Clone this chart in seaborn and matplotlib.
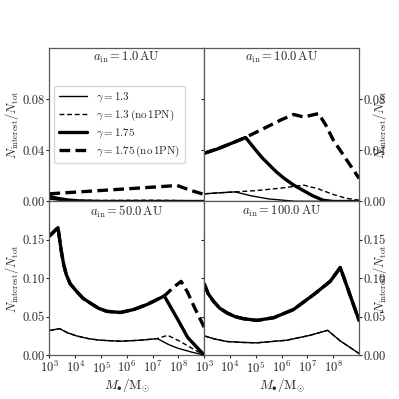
import numpy as np
import matplotlib
matplotlib.use("Agg")
import matplotlib.pyplot as plt
import seaborn as sns
from matplotlib.ticker import FixedLocator, NullLocator, FormatStrFormatter, LogFormatterMathtext

# log10(M_bh / M_sun) and N_interest/N_tot for each panel and curve
# a_in = 1.0 AU
lm_1_g13 = [3.0, 3.3, 3.7, 4.2, 5.0, 9.0]
f_1_g13 = [0.002, 0.0012, 0.0006, 0.0002, 0.0, 0.0]
lm_1_g13_nopn = [3.0, 3.5, 5.0, 7.0, 8.0, 9.0]
f_1_g13_nopn = [0.002, 0.0012, 0.0008, 0.001, 0.0008, 0.0]
lm_1_g175 = [3.0, 3.3, 3.7, 4.2, 5.0, 9.0]
f_1_g175 = [0.004, 0.0025, 0.0012, 0.0004, 0.0, 0.0]
lm_1_g175_nopn = [3.0, 4.0, 5.0, 6.0, 7.0, 7.95, 8.5, 9.0]
f_1_g175_nopn = [0.006, 0.0073, 0.0086, 0.0099, 0.0112, 0.0125, 0.0085, 0.0055]

# a_in = 10.0 AU
lm_10_g13 = [3.0, 3.6, 4.2, 4.8, 5.5, 6.5, 9.0]
f_10_g13 = [0.006, 0.0068, 0.0075, 0.0045, 0.002, 0.0002, 0.0]
lm_10_g13_nopn = [3.0, 3.6, 4.2, 5.0, 6.0, 6.85, 7.4, 8.0, 8.5, 9.0]
f_10_g13_nopn = [0.006, 0.0068, 0.0075, 0.0085, 0.0105, 0.0128, 0.010, 0.0055, 0.0025, 0.001]
lm_10_g175 = [3.0, 3.5, 4.0, 4.6, 4.8, 5.0, 5.25, 5.5, 5.8, 6.1, 6.45, 6.8, 7.2, 7.6, 8.0, 9.0]
f_10_g175 = [0.0377, 0.041, 0.045, 0.050, 0.045, 0.040, 0.034, 0.029, 0.023, 0.018, 0.013,
             0.009, 0.0045, 0.001, 0.0, 0.0]
lm_10_g175_nopn = [3.0, 3.5, 4.0, 4.6, 5.0, 5.5, 6.0, 6.46, 6.85, 7.43, 7.7, 8.0, 8.5, 9.0]
f_10_g175_nopn = [0.0377, 0.041, 0.045, 0.050, 0.054, 0.059, 0.064, 0.068, 0.066, 0.0687,
                  0.060, 0.048, 0.033, 0.018]

# a_in = 50.0 AU
lm_50_g13 = [3.0, 3.39, 3.7, 4.05, 4.5, 4.96, 5.75, 6.53, 7.18, 7.6, 7.97, 8.5, 9.0]
f_50_g13 = [0.032, 0.0345, 0.029, 0.025, 0.0215, 0.0194, 0.0181, 0.0194, 0.0215, 0.014, 0.009,
            0.004, 0.0]
lm_50_g13_nopn = [3.0, 3.39, 3.7, 4.05, 4.5, 4.96, 5.75, 6.53, 7.18, 7.58, 8.0, 8.36, 9.0]
f_50_g13_nopn = [0.032, 0.0345, 0.029, 0.025, 0.0215, 0.0194, 0.0181, 0.0194, 0.0215, 0.0258,
                 0.019, 0.012, 0.0]
lm_50_g175 = [3.0, 3.33, 3.46, 3.55, 3.65, 3.8, 4.05, 4.3, 4.57, 4.9, 5.22, 5.75, 6.27, 6.79,
              7.45, 7.97, 8.36, 9.0]
f_50_g175 = [0.155, 0.166, 0.135, 0.118, 0.105, 0.093, 0.083, 0.074, 0.068, 0.061, 0.057,
             0.0555, 0.0594, 0.066, 0.077, 0.0465, 0.0228, 0.0]
lm_50_g175_nopn = [3.0, 3.33, 3.46, 3.55, 3.65, 3.8, 4.05, 4.3, 4.57, 4.9, 5.22, 5.75, 6.27,
                   6.79, 7.45, 7.8, 8.1, 8.35, 8.62, 9.0]
f_50_g175_nopn = [0.155, 0.166, 0.135, 0.118, 0.105, 0.093, 0.083, 0.074, 0.068, 0.061, 0.057,
                  0.0555, 0.0594, 0.066, 0.077, 0.088, 0.096, 0.082, 0.062, 0.036]

# a_in = 100.0 AU (no-1PN curves coincide with the 1PN ones)
lm_100_g13 = [3.0, 3.4, 3.88, 4.5, 5.04, 6.2, 7.1, 7.78, 8.27, 9.0]
f_100_g13 = [0.025, 0.021, 0.0177, 0.0165, 0.016, 0.0194, 0.0258, 0.0323, 0.0185, 0.002]
lm_100_g175 = [3.0, 3.15, 3.36, 3.6, 3.88, 4.2, 4.52, 5.04, 5.69, 6.46, 7.24, 7.88, 8.27, 9.0]
f_100_g175 = [0.0926, 0.080, 0.070, 0.061, 0.055, 0.050, 0.0474, 0.0452, 0.0487, 0.0594,
              0.0788, 0.096, 0.114, 0.045]

panel_titles = [r'$a_{\rm in} = 1.0\,{\rm AU}$', r'$a_{\rm in} = 10.0\,{\rm AU}$',
                r'$a_{\rm in} = 50.0\,{\rm AU}$', r'$a_{\rm in} = 100.0\,{\rm AU}$']
curve_labels = [r'$\gamma = 1.3$', r'$\gamma = 1.3\,({\rm no\,1PN})$',
                r'$\gamma = 1.75$', r'$\gamma = 1.75\,({\rm no\,1PN})$']

panel_data = [
    [(lm_1_g13, f_1_g13), (lm_1_g13_nopn, f_1_g13_nopn),
     (lm_1_g175, f_1_g175), (lm_1_g175_nopn, f_1_g175_nopn)],
    [(lm_10_g13, f_10_g13), (lm_10_g13_nopn, f_10_g13_nopn),
     (lm_10_g175, f_10_g175), (lm_10_g175_nopn, f_10_g175_nopn)],
    [(lm_50_g13, f_50_g13), (lm_50_g13_nopn, f_50_g13_nopn),
     (lm_50_g175, f_50_g175), (lm_50_g175_nopn, f_50_g175_nopn)],
    [(lm_100_g13, f_100_g13), (lm_100_g13, f_100_g13),
     (lm_100_g175, f_100_g175), (lm_100_g175, f_100_g175)],
]

# line styles: thin/thick, solid/dashed
styles = [dict(lw=1.0, ls='-'), dict(lw=1.0, ls=(0, (3.5, 2))),
          dict(lw=2.4, ls='-'), dict(lw=2.4, ls=(0, (3.2, 1.6)))]

sns.set_style('ticks')
plt.rcParams['font.family'] = ['cmr10']
plt.rcParams['mathtext.fontset'] = 'cm'
plt.rcParams['axes.formatter.use_mathtext'] = True
plt.rcParams['axes.unicode_minus'] = False

fig, axes = plt.subplots(2, 2, figsize=(3.99, 3.99), dpi=100)
fig.subplots_adjust(left=0.124, right=0.900, top=0.880, bottom=0.110, hspace=0, wspace=0)

ylabel = r'$N_{\rm interest}/N_{\rm tot}$'
xlabel = r'$M_{\bullet}/{\rm M}_{\odot}$'

for i, ax in enumerate(axes.flat):
    for j, (lm, f) in enumerate(panel_data[i]):
        sns.lineplot(x=10 ** np.array(lm), y=f, ax=ax, color='black',
                     linewidth=styles[j]['lw'], linestyle=styles[j]['ls'],
                     label=curve_labels[j] if i == 0 else None, legend=False)
    ax.set_xscale('log')
    ax.set_xlim(1e3, 1e9)
    ax.xaxis.set_major_locator(FixedLocator([1e3, 1e4, 1e5, 1e6, 1e7, 1e8]))
    ax.xaxis.set_minor_locator(NullLocator())
    ax.xaxis.set_major_formatter(LogFormatterMathtext())
    if i < 2:
        ax.set_ylim(0, 0.12)
        ax.set_yticks([0, 0.04, 0.08])
        ax.tick_params(labelbottom=False)
    else:
        ax.set_ylim(0, 0.2)
        ax.set_yticks([0, 0.05, 0.10, 0.15])
        ax.set_xlabel(xlabel, fontsize=9.5, labelpad=0)
    ax.yaxis.set_major_formatter(FormatStrFormatter('%.2f'))
    if i % 2 == 1:
        ax.yaxis.tick_right()
        ax.yaxis.set_label_position('right')
        ax.tick_params(left=True)
        ax.set_ylabel(ylabel, fontsize=9, labelpad=-11)
    else:
        ax.set_ylabel(ylabel, fontsize=9, labelpad=1)
    ax.tick_params(labelsize=9, direction='out', length=2.5, width=0.8, pad=1)
    for sp in ax.spines.values():
        sp.set_color('0.35')
        sp.set_linewidth(0.9)
    ax.text(0.5, 0.935, panel_titles[i], transform=ax.transAxes, ha='center', va='center',
            fontsize=9)

leg = axes[0, 0].legend(loc='center left', bbox_to_anchor=(0.03, 0.5), fontsize=8,
                        handlelength=2.6, frameon=True, fancybox=True, borderaxespad=0,
                        labelspacing=0.3)
leg.get_frame().set_edgecolor('0.8')

fig.savefig('out.png', dpi=100)
